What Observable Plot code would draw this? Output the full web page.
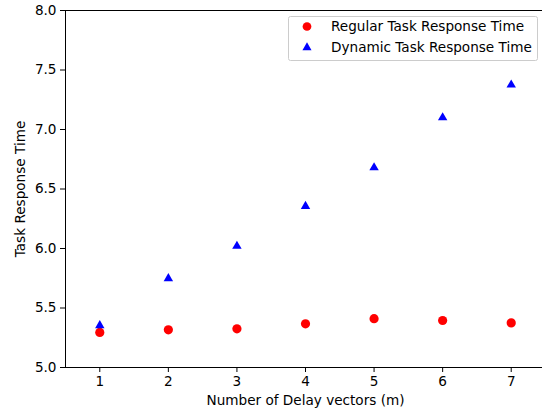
<!DOCTYPE html>
<html>
<head>
<meta charset="utf-8">
<script src="https://cdn.jsdelivr.net/npm/d3@7"></script>
<script src="https://cdn.jsdelivr.net/npm/@observablehq/plot@0.6"></script>
<style>
  html, body { margin: 0; padding: 0; background: #fff; }
  svg { display: block; }
</style>
</head>
<body>
<div id="chart"></div>
<script>
const delays = [1, 2, 3, 4, 5, 6, 7];
const regularTimes = [5.295, 5.317, 5.325, 5.367, 5.41, 5.395, 5.375];
const dynamicTimes = [5.353, 5.748, 6.02, 6.355, 6.68, 7.10, 7.375];
const yTicks = [5.0, 5.5, 6.0, 6.5, 7.0, 7.5, 8.0];
const xTicks = [1, 2, 3, 4, 5, 6, 7];
const seriesNames = ["Regular Task Response Time", "Dynamic Task Response Time"];

const regular = delays.map((d, i) => ({x: d, y: regularTimes[i]}));
const dynamic = delays.map((d, i) => ({x: d, y: dynamicTimes[i]}));

const W = 542, H = 411;
const font = "DejaVu Sans, sans-serif";

const chart = Plot.plot({
  width: W,
  height: H,
  marginLeft: 65,
  marginTop: 10,
  marginBottom: 44,
  marginRight: -3,
  style: {fontFamily: font, fontSize: "13.6px", color: "#000", background: "#fff"},
  x: {domain: [0.5, 7.5], ticks: xTicks, tickSize: 5, tickPadding: 4,
      label: "Number of Delay vectors (m)", labelAnchor: "center", labelOffset: 37, labelArrow: "none", line: false,
      tickFormat: d => String(d)},
  y: {domain: [5, 8], ticks: yTicks, tickSize: 5, tickPadding: 4,
      label: "Task Response Time", labelAnchor: "center", labelOffset: 50, labelArrow: "none",
      tickFormat: d => d.toFixed(1)},
  marks: [
    Plot.ruleX([0.5], {stroke: "#000", strokeWidth: 1}),
    Plot.ruleY([5, 8], {stroke: "#000", strokeWidth: 1}),
    Plot.dot(regular, {x: "x", y: "y", r: 4.6, fill: "#ff0000", stroke: "none", symbol: "circle"}),
    Plot.dot(dynamic, {x: "x", y: "y", r: 3.5, fill: "#0000ff", stroke: "none", symbol: "triangle"})
  ]
});

// Legend inside plot area (matplotlib style box)
const svg = d3.select(chart);
const g = svg.append("g").attr("font-family", font).attr("font-size", "13.6px").attr("text-anchor", "start");
g.append("rect").attr("x", 288.5).attr("y", 16.5).attr("width", 249).attr("height", 44)
  .attr("fill", "#fff").attr("fill-opacity", 0.8).attr("stroke", "#ccc").attr("rx", 2);
const legendSym = [d3.symbolCircle, d3.symbolTriangle];
const legendCol = ["#ff0000", "#0000ff"];
const legendSize = [60, 36];
seriesNames.forEach((name, i) => {
  const cy = 26.5 + i * 21;
  g.append("path").attr("d", d3.symbol(legendSym[i], legendSize[i])())
    .attr("transform", `translate(307,${cy})`).attr("fill", legendCol[i]);
  g.append("text").attr("x", 331).attr("y", cy).attr("dy", "0.35em").attr("fill", "#000")
    .attr("text-anchor", "start").text(name);
});

document.getElementById("chart").appendChild(chart);
</script>
</body>
</html>
